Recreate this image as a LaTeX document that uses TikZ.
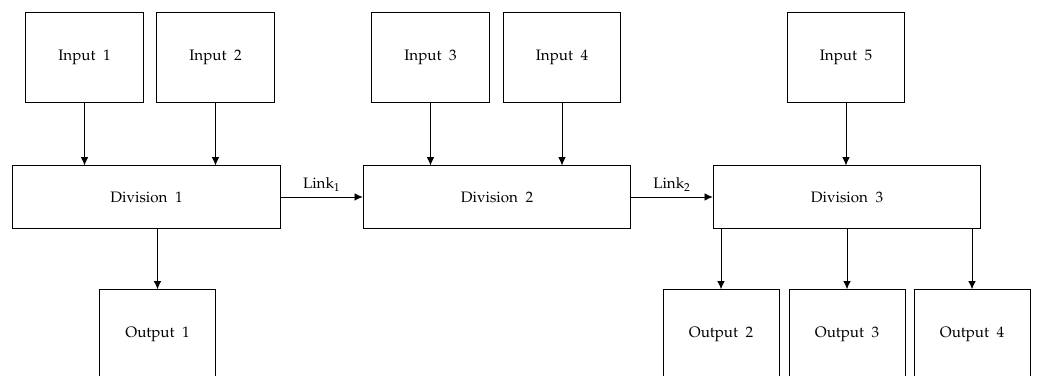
\documentclass[tikz,border=0pt]{standalone}
\usepackage[T1]{fontenc}
\usepackage{mathpazo}
\usepackage{tikz}
\usetikzlibrary{arrows.meta}

\begin{document}
\begin{tikzpicture}[x=0.66pt, y=-0.66pt, >={Latex[length=5.5pt, width=5pt]}, line width=0.6pt,
  inbox/.style={draw, minimum width=77.5pt, minimum height=59pt},
  divbox/.style={draw, minimum width=176.5pt, minimum height=41pt},
  outbox/.style={draw, minimum width=76.5pt, minimum height=59pt}]
\useasboundingbox (0, 0) rectangle (1037, 376);
\clip (0, 0) rectangle (1037, 376);
\node[inbox] (in1) at (84.5, 57.5) {Input~~1};
\node[inbox] (in2) at (215.5, 57.5) {Input~~2};
\node[inbox] (in3) at (430.5, 57.5) {Input~~3};
\node[inbox] (in4) at (562, 57.5) {Input~~4};
\node[inbox] (in5) at (846, 57.5) {Input~~5};
\node[divbox] (div1) at (146.5, 197) {Division~~1};
\node[divbox] (div2) at (497, 197) {Division~~2};
\node[divbox] (div3) at (847, 197) {Division~~3};
\node[outbox] (out1) at (157.5, 334.5) {Output~~1};
\node[outbox] (out2) at (721, 334.5) {Output~~2};
\node[outbox] (out3) at (847, 334.5) {Output~~3};
\node[outbox] (out4) at (972, 334.5) {Output~~4};
\draw[->] (in1) -- (in1 |- div1.north);
\draw[->] (in2) -- (in2 |- div1.north);
\draw[->] (in3) -- (in3 |- div2.north);
\draw[->] (in4) -- (in4 |- div2.north);
\draw[->] (in5) -- (in5 |- div3.north);
\draw[->] (div1) -- node[above]{Link$_1$} (div2);
\draw[->] (div2) -- node[above]{Link$_2$} (div3);
\draw[->] (div1.south -| out1) -- (out1);
\draw[->] (div3.south -| out2) -- (out2);
\draw[->] (div3.south -| out3) -- (out3);
\draw[->] (div3.south -| out4) -- (out4);
\end{tikzpicture}
\end{document}
